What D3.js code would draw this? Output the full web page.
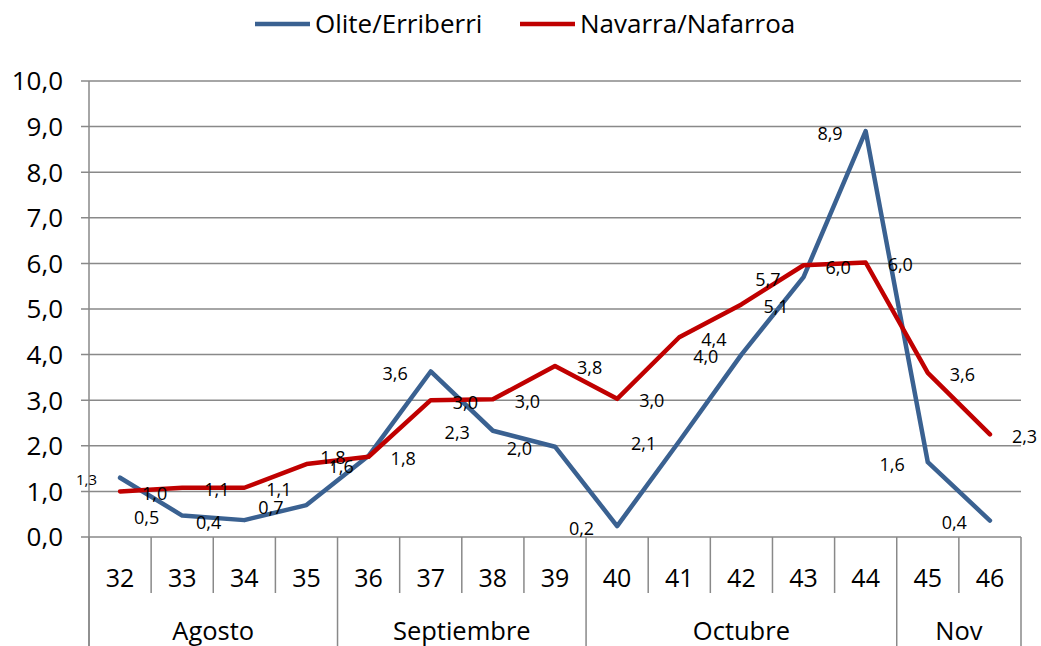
<!DOCTYPE html>
<html><head><meta charset="utf-8">
<script src="https://cdn.jsdelivr.net/npm/d3@7"></script>
<style>body{margin:0;background:#fff}svg{display:block}text{font-family:"Open Sans","Noto Sans",sans-serif}</style>
</head><body><svg id="c" width="1041" height="646"></svg>
<script>
const weeks = ["32","33","34","35","36","37","38","39","40","41","42","43","44","45","46"];
const months = ["Agosto","Septiembre","Octubre","Nov"];
const monthSpans = [4,4,5,2];
const olite = [1.3,0.47,0.37,0.7,1.78,3.63,2.33,1.98,0.24,2.1,4.0,5.7,8.9,1.64,0.36];
const navarra = [1.0,1.08,1.08,1.6,1.76,3.0,3.02,3.75,3.03,4.38,5.1,5.96,6.02,3.6,2.25];
const yTicks = [0,1,2,3,4,5,6,7,8,9,10];
const seriesNames = ["Olite/Erriberri","Navarra/Nafarroa"];
const colors = ["#3A6191","#C00000"];

const svg = d3.select("#c");
const L=89, R=1021, T=81, B=537;
const x = d3.scaleBand().domain(weeks).range([L,R]);
const y = d3.scaleLinear().domain([0,10]).range([B,T]);
const fmt = v => d3.format(".1f")(v).replace(".",",");
const grid = "#898989";

svg.append("g").selectAll("line").data(yTicks).join("line")
  .attr("x1",L-8).attr("x2",R).attr("y1",d=>y(d)).attr("y2",d=>y(d))
  .attr("stroke",grid).attr("stroke-width",1.5);
svg.append("line").attr("x1",L).attr("x2",L).attr("y1",T).attr("y2",646).attr("stroke",grid).attr("stroke-width",1.5);
svg.append("g").selectAll("text").data(yTicks).join("text")
  .attr("x",63).attr("y",d=>y(d)).attr("dy","0.36em").attr("text-anchor","end")
  .attr("font-size",26).attr("fill","#000").text(d=>fmt(d));

const boundaries = [];
let acc=0; const groupIdx=new Set([0]);
monthSpans.forEach(s=>{acc+=s; groupIdx.add(acc);});
for(let i=0;i<=weeks.length;i++){
  const xp = i<weeks.length ? x(weeks[i]) : R;
  boundaries.push({xp, full: groupIdx.has(i)});
}
svg.append("g").selectAll("line").data(boundaries).join("line")
  .attr("x1",d=>d.xp).attr("x2",d=>d.xp).attr("y1",B).attr("y2",d=>d.full?646:593)
  .attr("stroke",grid).attr("stroke-width",1.5);
svg.append("g").selectAll("text").data(weeks).join("text")
  .attr("x",d=>x(d)+x.bandwidth()/2).attr("y",578).attr("dy","0.36em").attr("text-anchor","middle")
  .attr("font-size",25).attr("fill","#000").text(d=>d);
let start=0;
const monthPos = months.map((m,i)=>{const s=start; start+=monthSpans[i];
  const x0=x(weeks[s]); const x1= start<weeks.length? x(weeks[start]) : R; return {m, cx:(x0+x1)/2};});
svg.append("g").selectAll("text").data(monthPos).join("text")
  .attr("x",d=>d.cx).attr("y",631).attr("dy","0.36em").attr("text-anchor","middle")
  .attr("font-size",25.5).attr("fill","#000").text(d=>d.m);

const line = d3.line().x((d,i)=>x(weeks[i])+x.bandwidth()/2).y(d=>y(d));
[olite,navarra].forEach((s,k)=>{
  svg.append("path").datum(s).attr("d",line).attr("fill","none")
    .attr("stroke",colors[k]).attr("stroke-width",4.5).attr("stroke-linejoin","round").attr("stroke-linecap","round");
});
svg.append("g").selectAll("text").data(olite).join("text")
  .attr("x",(d,i)=>x(weeks[i])+x.bandwidth()/2-23).attr("y",(d,i)=>y(d)+2).attr("dy","0.36em")
  .attr("text-anchor","end").attr("font-size",(d,i)=>i===0?15:18).attr("fill","#000").text(d=>fmt(d));
svg.append("g").selectAll("text").data(navarra).join("text")
  .attr("x",(d,i)=>x(weeks[i])+x.bandwidth()/2+22).attr("y",(d,i)=>y(d)+2).attr("dy","0.36em")
  .attr("text-anchor","start").attr("font-size",18).attr("fill","#000").text(d=>fmt(d));

const leg = [{x:255,name:seriesNames[0],c:colors[0]},{x:520,name:seriesNames[1],c:colors[1]}];
leg.forEach(l=>{
  svg.append("line").attr("x1",l.x).attr("x2",l.x+55).attr("y1",24).attr("y2",24).attr("stroke",l.c).attr("stroke-width",4.5);
  svg.append("text").attr("x",l.x+60).attr("y",24).attr("dy","0.36em").attr("font-size",26).attr("fill","#000").text(l.name);
});
</script></body></html>
